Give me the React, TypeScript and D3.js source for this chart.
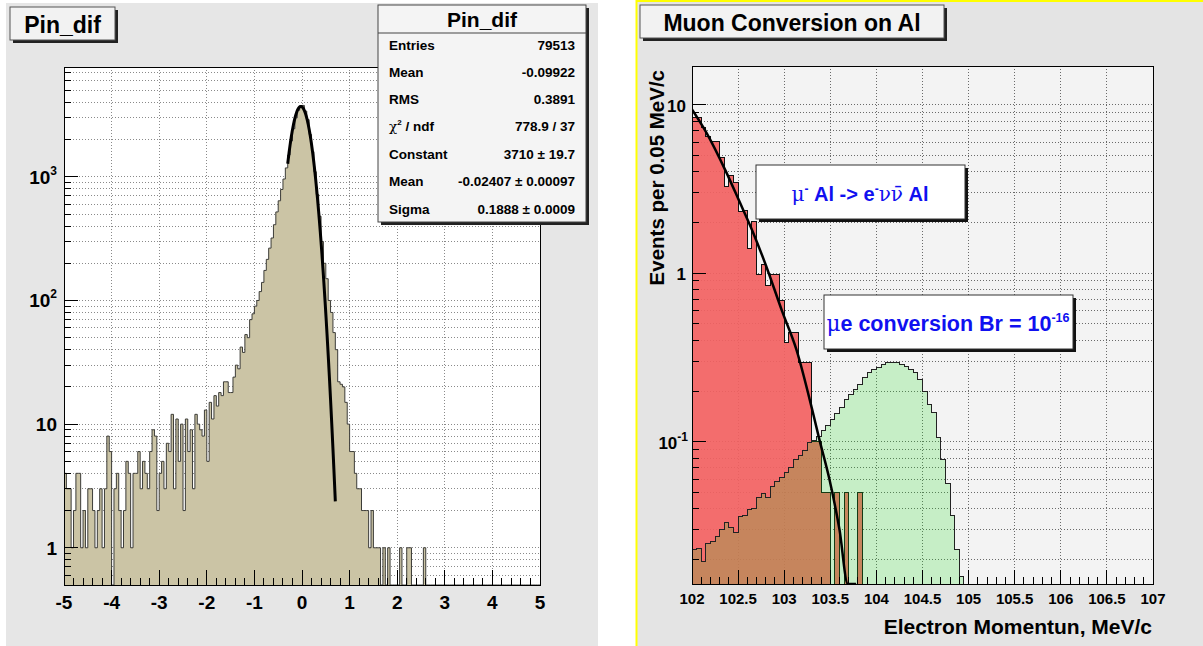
import React from 'react';
import * as d3 from 'd3';

// ---------------- Left panel: Pin_dif ----------------
const pinBinLow = -5;
const pinBinWidth = 0.05;
const pinCounts: number[] = [
  4, 3, 3, 1, 2, 4, 4, 1, 2, 1, 3, 3, 2, 1, 2, 3, 1, 3, 8, 6,
  0, 3, 4, 2, 1, 2, 5, 4, 1, 4, 4, 6, 3, 5, 4, 3, 6, 9, 8, 2,
  4, 5, 3, 7, 6, 12, 3, 11, 5, 10, 2, 11, 6, 9, 3, 12, 10, 9, 8, 13,
  5, 15, 11, 17, 14, 18, 17, 22, 22, 18, 18, 24, 30, 28, 42, 38, 53, 50, 70, 78,
  90, 100, 118, 140, 175, 215, 265, 320, 410, 520, 640, 790, 960, 1180, 1500, 1950, 2450, 3000, 3450, 3720,
  3780, 3400, 2900, 2200, 1600, 1100, 720, 480, 300, 200, 150, 100, 80, 55, 40, 22, 21, 20, 15, 10,
  6, 6, 4, 3, 3, 2, 2, 2, 1, 2, 1, 1, 1, 0, 1, 0, 1, 0, 0, 0,
  0, 1, 0, 0, 1, 1, 0, 0, 0, 0, 0, 1, 0, 0, 0, 0, 0, 0, 0, 0,
  0, 0, 0, 0, 0, 0, 0, 0, 0, 0, 0, 0, 0, 0, 0, 0, 0, 0, 0, 0,
  0, 0, 0, 0, 0, 0, 0, 0, 0, 0, 0, 0, 0, 0, 0, 0, 0, 0, 0, 0,
];
const pinXDomain = [-5, 5];
const pinXTickValues = [-5, -4, -3, -2, -1, 0, 1, 2, 3, 4, 5];
const pinYDomain = [0.5, 7730];
const pinYTickValues = [1, 10, 100, 1000];
const pinYTickBase = ['1', '10', '10', '10'];
const pinYTickSup = ['', '', '2', '3'];
const pinFitConstant = 3710;
const pinFitMean = -0.02407;
const pinFitSigma = 0.1888;
const pinFitRange = [-0.3, 0.7];
const statsTitle = 'Pin_dif';
const statsLabels = ['Entries', 'Mean', 'RMS', 'chi2', 'Constant', 'Mean', 'Sigma'];
const statsValues = ['79513', '-0.09922', '0.3891', '778.9 / 37', '3710 ± 19.7', '-0.02407 ± 0.00097', '0.1888 ± 0.0009'];

// ---------------- Right panel: Muon Conversion on Al ----------------
const momBinLow = 102;
const momBinWidth = 0.05;
const dioCounts: number[] = [
  8.4, 8.4, 7.3, 6.5, 6.05, 6.05, 4.86, 3.27, 3.79, 3.47,
  2.34, 2.37, 1.4, 2.03, 0.99, 1.12, 0.845, 0.98, 0.98, 0.69,
  0.39, 0.446, 0.446, 0.296, 0.296, 0.296, 0.1, 0.1, 0.05, 0.05,
  0, 0.05, 0, 0.05, 0, 0, 0.05, 0, 0, 0,
  0, 0, 0, 0, 0, 0, 0, 0, 0, 0,
  0, 0, 0, 0, 0, 0, 0, 0, 0, 0,
  0, 0, 0, 0, 0, 0, 0, 0, 0, 0,
  0, 0, 0, 0, 0, 0, 0, 0, 0, 0,
  0, 0, 0, 0, 0, 0, 0, 0, 0, 0,
  0, 0, 0, 0, 0, 0, 0, 0, 0, 0,
];
const convCounts: number[] = [
  0.0229, 0.0232, 0.0195, 0.025, 0.0255, 0.0274, 0.03, 0.0333, 0.0308, 0.029,
  0.0361, 0.0365, 0.0395, 0.04, 0.0464, 0.049, 0.0464, 0.0545, 0.0583, 0.061,
  0.0653, 0.07, 0.0785, 0.0829, 0.0891, 0.0986, 0.101, 0.107, 0.117, 0.125,
  0.136, 0.148, 0.16, 0.178, 0.191, 0.205, 0.22, 0.24, 0.257, 0.268,
  0.276, 0.289, 0.295, 0.297, 0.295, 0.289, 0.28, 0.27, 0.257, 0.235,
  0.2, 0.167, 0.149, 0.106, 0.0785, 0.0565, 0.0364, 0.0229, 0.0158, 0,
  0, 0, 0, 0, 0, 0, 0, 0, 0, 0,
  0, 0, 0, 0, 0, 0, 0, 0, 0, 0,
  0, 0, 0, 0, 0, 0, 0, 0, 0, 0,
  0, 0, 0, 0, 0, 0, 0, 0, 0, 0,
];
const dioFitE = [102.0, 102.15, 102.37, 102.51, 102.66, 102.8, 102.98, 103.13, 103.31, 103.38, 103.49, 103.6, 103.69, 103.78];
const dioFitV = [9.4, 6.94, 4.0, 2.7, 1.76, 1.12, 0.59, 0.356, 0.15, 0.104, 0.06, 0.03, 0.0143, 0.0143];
const momXDomain = [102, 107];
const momXTickValues = [102, 102.5, 103, 103.5, 104, 104.5, 105, 105.5, 106, 106.5, 107];
const momXTickLabels = ['102', '102.5', '103', '103.5', '104', '104.5', '105', '105.5', '106', '106.5', '107'];
const momYDomain = [0.0143, 17];
const momYTickValues = [0.1, 1, 10];
const momYTickBase = ['10', '1', '10'];
const momYTickSup = ['-1', '', ''];

const FONT = "'Liberation Sans', Arial, Helvetica, sans-serif";
const SYM = "'DejaVu Serif', 'Liberation Serif', serif";

function logTickValues(domain: number[]) {
  const out: number[] = [];
  const lo = Math.floor(Math.log10(domain[0]));
  const hi = Math.ceil(Math.log10(domain[1]));
  for (let e = lo; e <= hi; e++) {
    for (let m = 1; m <= 9; m++) {
      const v = m * Math.pow(10, e);
      if (v >= domain[0] * 1.0001 && v <= domain[1]) out.push(v);
    }
  }
  return out;
}

function linTicks(a: number, b: number, step: number) {
  const out: number[] = [];
  const n = Math.round((b - a) / step);
  for (let i = 0; i <= n; i++) out.push(+(a + i * step).toFixed(6));
  return out;
}

function histPath(values: number[], x0: number, bw: number, xs: any, ys: any, closed: boolean) {
  const yb = ys.range()[0];
  let d = `M${xs(x0)},${yb}`;
  values.forEach((v, i) => {
    const y = v > 0 ? ys(Math.max(v, ys.domain()[0])) : yb;
    d += `L${xs(x0 + i * bw)},${y}L${xs(x0 + (i + 1) * bw)},${y}`;
  });
  d += `L${xs(x0 + values.length * bw)},${yb}`;
  if (closed) d += 'Z';
  return d;
}

export default function App() {
  const L = { x0: 64, x1: 540, y0: 67, y1: 585 };
  const lx = d3.scaleLinear().domain(pinXDomain).range([L.x0, L.x1]);
  const ly = d3.scaleLog().domain(pinYDomain).range([L.y1, L.y0]);
  const lyAll = logTickValues(pinYDomain);
  const lxMinor = linTicks(pinXDomain[0], pinXDomain[1], 0.2);
  const gaussX = d3.range(pinFitRange[0], pinFitRange[1] + 1e-9, 0.005);
  const gaussLine = d3
    .line<number>()
    .x((x) => lx(x))
    .y((x) => ly(pinFitConstant * Math.exp(-0.5 * Math.pow((x - pinFitMean) / pinFitSigma, 2))));

  const R = { x0: 692, x1: 1153, y0: 66, y1: 584 };
  const rx = d3.scaleLinear().domain(momXDomain).range([R.x0, R.x1]);
  const ry = d3.scaleLog().domain(momYDomain).range([R.y1, R.y0]);
  const ryAll = logTickValues(momYDomain);
  const rxMinor = linTicks(momXDomain[0], momXDomain[1], 0.1);
  const fitPts = dioFitE.map((e, i) => [e, dioFitV[i]] as [number, number]);
  const dioLine = d3
    .line<[number, number]>()
    .x((p) => rx(p[0]))
    .y((p) => ry(Math.max(p[1], momYDomain[0])))
    .curve(d3.curveMonotoneX);

  const statsBaselines = [50, 77, 104, 131, 159, 186, 214];

  return (
    <svg width={1203} height={646} style={{ position: 'absolute', left: 0, top: 0, display: 'block' }} fontFamily={FONT}>
      <defs>
        <clipPath id="clipL">
          <rect x={L.x0} y={L.y0} width={L.x1 - L.x0} height={L.y1 - L.y0} />
        </clipPath>
        <clipPath id="clipR">
          <rect x={R.x0} y={R.y0} width={R.x1 - R.x0} height={R.y1 - R.y0} />
        </clipPath>
      </defs>
      <rect x={0} y={0} width={1203} height={646} fill="#ffffff" />

      {/* ================= LEFT PANEL ================= */}
      <rect x={6} y={3} width={592} height={643} fill="#e6e6e6" />
      <rect x={L.x0} y={L.y0} width={L.x1 - L.x0} height={L.y1 - L.y0} fill="#ffffff" />
      <g stroke="#8a8a8a" strokeWidth={1} strokeDasharray="1,2" shapeRendering="crispEdges">
        {pinXTickValues.slice(1, -1).map((v) => (
          <line key={'gx' + v} x1={lx(v)} x2={lx(v)} y1={L.y0} y2={L.y1} />
        ))}
        {lyAll.map((v) => (
          <line key={'gy' + v} x1={L.x0} x2={L.x1} y1={ly(v)} y2={ly(v)} />
        ))}
      </g>
      <g clipPath="url(#clipL)">
        <path d={histPath(pinCounts, pinBinLow, pinBinWidth, lx, ly, true)} fill="#cbc4a5" stroke="none" />
        <path d={histPath(pinCounts, pinBinLow, pinBinWidth, lx, ly, false)} fill="none" stroke="#3c3c38" strokeWidth={1} />
        <path d={gaussLine(gaussX) || ''} fill="none" stroke="#000" strokeWidth={3} />
      </g>
      <g stroke="#000" strokeWidth={1} shapeRendering="crispEdges">
        {lxMinor.map((v) => {
          const major = Math.abs(v - Math.round(v)) < 1e-6;
          return <line key={'tx' + v} x1={lx(v)} x2={lx(v)} y1={L.y1} y2={L.y1 - (major ? 15 : 7)} />;
        })}
        {lyAll.map((v) => {
          const major = Math.abs(Math.log10(v) - Math.round(Math.log10(v))) < 1e-6;
          return <line key={'ty' + v} x1={L.x0} x2={L.x0 + (major ? 14 : 7)} y1={ly(v)} y2={ly(v)} />;
        })}
      </g>
      <rect x={L.x0} y={L.y0} width={L.x1 - L.x0} height={L.y1 - L.y0} fill="none" stroke="#000" strokeWidth={1} shapeRendering="crispEdges" />
      <g fontWeight="bold" fontSize={19} fill="#000">
        {pinXTickValues.map((v) => (
          <text key={'lx' + v} x={lx(v)} y={609} textAnchor="middle">
            {String(v)}
          </text>
        ))}
        {pinYTickValues.map((v, i) => (
          <text key={'ly' + v} x={57} y={ly(v) + 7} textAnchor="end">
            {pinYTickBase[i]}
            {pinYTickSup[i] ? (
              <tspan dy={-9} fontSize={12}>
                {pinYTickSup[i]}
              </tspan>
            ) : null}
          </text>
        ))}
      </g>
      <rect x={13} y={10} width={105} height={33} fill="#222" />
      <rect x={10} y={7} width={105} height={33} fill="#f2f2f2" stroke="#555" strokeWidth={1} />
      <text x={62.5} y={33} textAnchor="middle" fontWeight="bold" fontSize={23}>
        Pin_dif
      </text>
      <rect x={381} y={8} width={208} height={217} fill="#222" />
      <rect x={378} y={5} width={208} height={217} fill="#f4f4f4" stroke="#444" strokeWidth={1} />
      <line x1={378} x2={586} y1={33} y2={33} stroke="#444" strokeWidth={1} />
      <text x={482} y={27} textAnchor="middle" fontWeight="bold" fontSize={21}>
        {statsTitle}
      </text>
      <g fontWeight="bold" fontSize={13.5}>
        {statsLabels.map((lab, i) => (
          <text key={'sl' + i} x={389} y={statsBaselines[i]}>
            {lab === 'chi2' ? (
              <>
                <tspan fontFamily={SYM} fontWeight="normal">χ</tspan>
                <tspan dy={-6} fontSize={8}>2</tspan>
                <tspan dy={6}>{' / ndf'}</tspan>
              </>
            ) : (
              lab
            )}
          </text>
        ))}
        {statsValues.map((val, i) => (
          <text key={'sv' + i} x={575} y={statsBaselines[i]} textAnchor="end">
            {val}
          </text>
        ))}
      </g>

      {/* ================= RIGHT PANEL ================= */}
      <rect x={636} y={0} width={567} height={646} fill="#e4e4e4" />
      <line x1={636.5} x2={636.5} y1={0} y2={646} stroke="#ffff00" strokeWidth={2} />
      <line x1={636} x2={1203} y1={1} y2={1} stroke="#ffff00" strokeWidth={2} />
      <rect x={R.x0} y={R.y0} width={R.x1 - R.x0} height={R.y1 - R.y0} fill="#f3f3f3" />
      <g stroke="#6a6a6a" strokeWidth={1} strokeDasharray="1,2" shapeRendering="crispEdges">
        {momXTickValues.slice(1, -1).map((v) => (
          <line key={'rgx' + v} x1={rx(v)} x2={rx(v)} y1={R.y0} y2={R.y1} />
        ))}
        {ryAll.map((v) => (
          <line key={'rgy' + v} x1={R.x0} x2={R.x1} y1={ry(v)} y2={ry(v)} />
        ))}
      </g>
      <g clipPath="url(#clipR)">
        <path d={histPath(dioCounts, momBinLow, momBinWidth, rx, ry, true)} fill="#f26262" fillOpacity={0.93} stroke="none" shapeRendering="crispEdges" />
        <path d={histPath(dioCounts, momBinLow, momBinWidth, rx, ry, false)} fill="none" stroke="#111" strokeWidth={1} shapeRendering="crispEdges" />
        <path d={histPath(convCounts, momBinLow, momBinWidth, rx, ry, true)} fill="#22e022" fillOpacity={0.21} stroke="none" shapeRendering="crispEdges" />
        <path d={histPath(convCounts, momBinLow, momBinWidth, rx, ry, false)} fill="none" stroke="#222" strokeWidth={1} shapeRendering="crispEdges" />
        <path d={dioLine(fitPts) || ''} fill="none" stroke="#000" strokeWidth={2.5} />
      </g>
      <g stroke="#000" strokeWidth={1} shapeRendering="crispEdges">
        {rxMinor.map((v) => {
          const major = Math.abs(v * 2 - Math.round(v * 2)) < 1e-6;
          return <line key={'rtx' + v} x1={rx(v)} x2={rx(v)} y1={R.y1} y2={R.y1 - (major ? 14 : 7)} />;
        })}
        {ryAll.map((v) => {
          const major = Math.abs(Math.log10(v) - Math.round(Math.log10(v))) < 1e-6;
          return <line key={'rty' + v} x1={R.x0} x2={R.x0 + (major ? 14 : 7)} y1={ry(v)} y2={ry(v)} />;
        })}
      </g>
      <rect x={R.x0} y={R.y0} width={R.x1 - R.x0} height={R.y1 - R.y0} fill="none" stroke="#000" strokeWidth={1} shapeRendering="crispEdges" />
      <g fontWeight="bold" fill="#000">
        {momXTickValues.map((v, i) => (
          <text key={'rlx' + v} x={rx(v)} y={604} textAnchor="middle" fontSize={15}>
            {momXTickLabels[i]}
          </text>
        ))}
        {momYTickValues.map((v, i) => (
          <text key={'rly' + v} x={momYTickSup[i] ? 688 : 686} y={ry(v) + 7} textAnchor="end" fontSize={17}>
            {momYTickBase[i]}
            {momYTickSup[i] ? (
              <tspan dy={-8} fontSize={12}>
                {momYTickSup[i]}
              </tspan>
            ) : null}
          </text>
        ))}
      </g>
      <text transform="translate(664,70) rotate(-90)" textAnchor="end" fontWeight="bold" fontSize={20.5}>
        Events per 0.05 MeV/c
      </text>
      <text x={1152} y={634} textAnchor="end" fontWeight="bold" fontSize={21}>
        Electron Momentun, MeV/c
      </text>
      <rect x={643} y={8} width={304} height={33} fill="#222" />
      <rect x={640} y={5} width={304} height={33} fill="#f2f2f2" stroke="#555" strokeWidth={1} />
      <text x={792} y={31} textAnchor="middle" fontWeight="bold" fontSize={23}>
        Muon Conversion on Al
      </text>
      <rect x={759} y={168} width={209} height={54} fill="#111" />
      <rect x={756} y={165} width={209} height={54} fill="#ffffff" stroke="#333" strokeWidth={1} />
      <text x={860} y={201} textAnchor="middle" fontWeight="bold" fontSize={20} fill="#1010f0">
        <tspan fontFamily={SYM} fontWeight="normal">μ</tspan>
        <tspan dy={-8} fontSize={12}>-</tspan>
        <tspan dy={8}>{' Al -> e'}</tspan>
        <tspan dy={-8} fontSize={12}>-</tspan>
        <tspan dy={8} fontFamily={SYM} fontWeight="normal">{'ν\u03BD\u0304'}</tspan>
        <tspan>{' Al'}</tspan>
      </text>
      <rect x={827} y={298} width={249} height={54} fill="#111" />
      <rect x={824} y={295} width={249} height={54} fill="#ffffff" stroke="#333" strokeWidth={1} />
      <text x={948} y={331} textAnchor="middle" fontWeight="bold" fontSize={21.5} fill="#1010f0">
        <tspan fontFamily={SYM} fontWeight="normal">μ</tspan>
        <tspan>{'e conversion Br = 10'}</tspan>
        <tspan dy={-9} fontSize={12.5}>-16</tspan>
      </text>
    </svg>
  );
}
